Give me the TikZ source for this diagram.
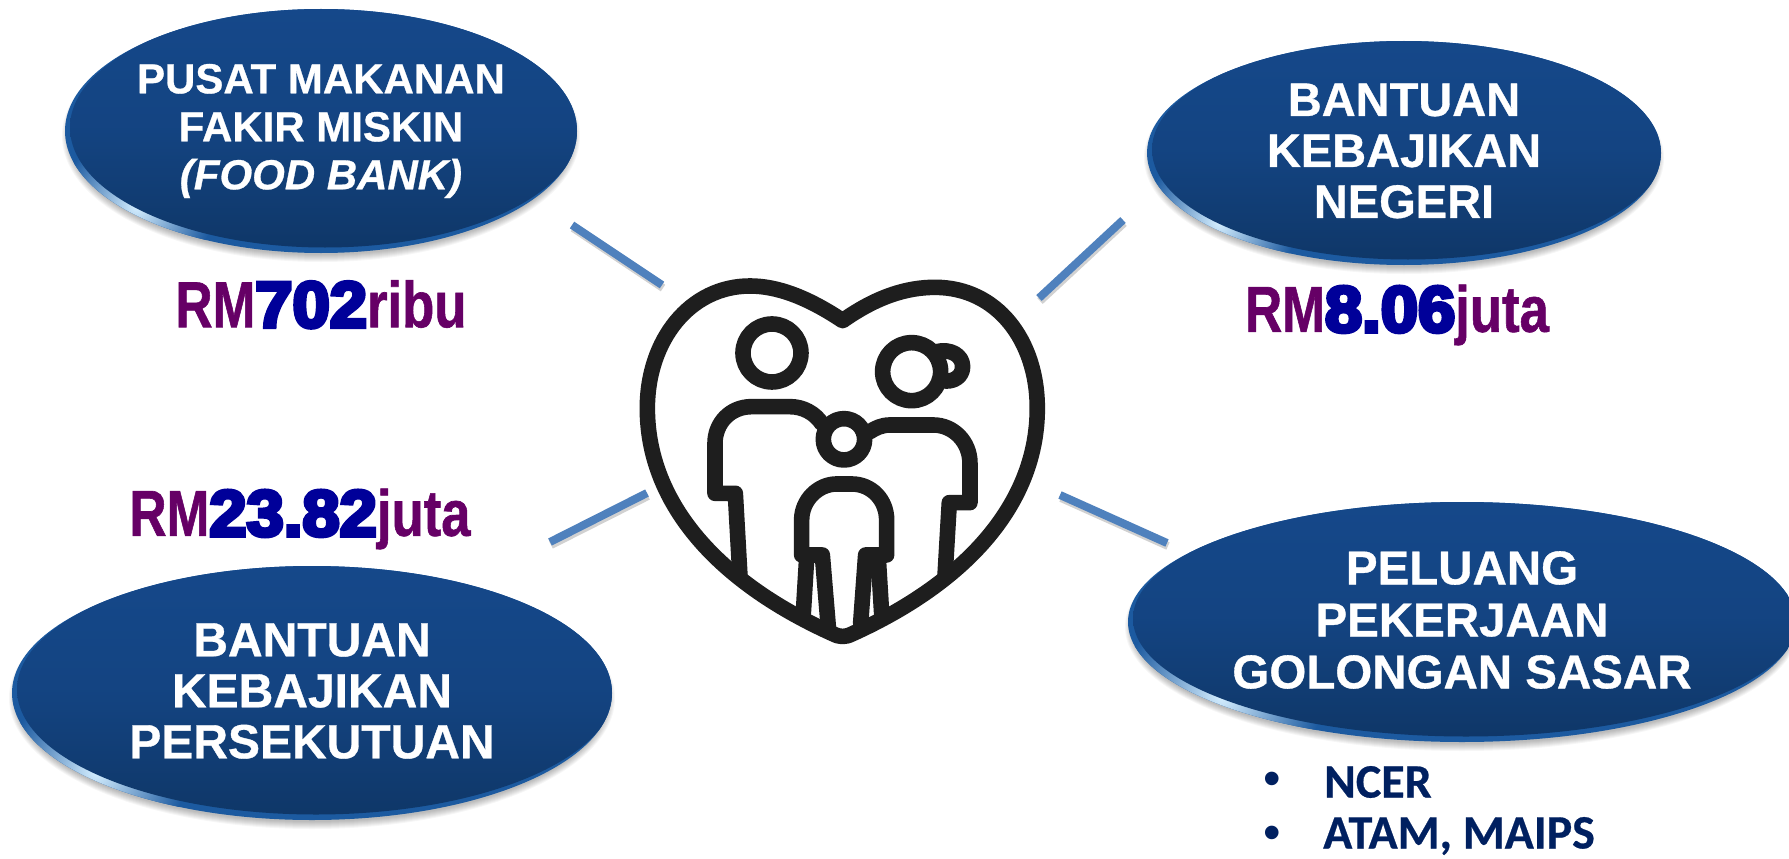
\documentclass[tikz,border=0pt]{standalone}
\usepackage{fontspec}
\setmainfont{Liberation Sans}
\newfontfamily\numfont[FakeBold=6]{Liberation Sans Bold}
\newfontfamily\amtfont[FakeBold=1]{Liberation Sans Bold}
\newfontfamily\ovalfont[FakeBold=.7]{Liberation Sans Bold}
\newfontfamily\ovalitalic[FakeBold=.7]{Liberation Sans Bold Italic}
\newfontfamily\calfont[FakeBold=.5]{Carlito Bold}
\usetikzlibrary{shapes.geometric,calc}
\definecolor{ovaltop}{HTML}{15488A}
\definecolor{ovalbot}{HTML}{0F3768}
\definecolor{rimlight}{HTML}{D4EEFF}
\definecolor{rimmid}{HTML}{1C5AA0}
\definecolor{linkblue}{HTML}{4F81BD}
\definecolor{amtpurple}{HTML}{660066}
\definecolor{amtblue}{HTML}{000099}
\definecolor{listblue}{HTML}{002060}
\definecolor{iconblack}{HTML}{1E1E1E}
\tikzset{
  ovalrim/.style={ellipse,inner sep=0pt,outer sep=0pt,fill=rimmid},
  ovaltext/.style={align=center,text=white,font=\ovalfont\fontsize{47}{51}\selectfont},
  amount/.style={inner sep=0pt,font=\fontsize{65}{70}\selectfont},
  listtext/.style={anchor=west,inner sep=0pt,text=listblue,font=\calfont\fontsize{48}{50}\selectfont},
  listdot/.style={inner sep=0pt,text=listblue,font=\fontsize{50}{50}\selectfont},
  linkline/.style={draw=linkblue,line width=8pt},
  linkshadow/.style={draw=black,opacity=.18,line width=8pt},
  icon/.style={draw=iconblack,line width=15.6pt,line join=round,line cap=round}
}
\newcommand{\ovalshape}[5]{%
  \foreach \k in {0,...,7}{\fill[black,opacity=.035] (#2,#3+5) ellipse [x radius=#4+\k-4,y radius=#5+\k-3];}
  \node[ovalrim,minimum width=2*#4,minimum height=2*#5] (#1) at (#2,#3) {};
  \begin{scope}
    \clip (#2,#3) ellipse [x radius=#4,y radius=#5];
    \shade[inner color=rimlight,outer color=rimmid] (#2-0.72*#4,#3+0.62*#5) circle [radius=0.30*#4];
    \shade[top color=ovaltop,bottom color=ovalbot,middle color=ovaltop!75!ovalbot] (#2+4,#3-3.5) ellipse [x radius=#4-1,y radius=#5-2];
  \end{scope}
}
\newcommand{\amt}[2]{\scalebox{.79}[1]{\amtfont\textcolor{amtpurple}{RM}}\scalebox{1.03}[1]{\textcolor{amtblue}{\numfont #1}}\scalebox{.81}[1]{\amtfont\textcolor{amtpurple}{#2}}}
\begin{document}
\begin{tikzpicture}[x=1pt,y=-1pt]
\useasboundingbox (0,0) rectangle (1789,859);
\fill[white] (0,0) rectangle (1789,859);

% ovals
\ovalshape{foodoval}{321}{131}{256}{122}
\ovalshape{negerioval}{1404}{153}{257}{112}
\ovalshape{fedoval}{312}{693}{300}{127}
\ovalshape{jobsoval}{1462}{622}{334}{120}

\node[ovaltext,font=\ovalfont\fontsize{42}{48}\selectfont] (foodtext) at (321,131) {PUSAT MAKANAN\\FAKIR MISKIN\\{\ovalitalic (FOOD BANK)}};
\node[ovaltext] (negeritext) at (1404,151) {BANTUAN\\KEBAJIKAN\\NEGERI};
\node[ovaltext,font=\ovalfont\fontsize{48}{51}\selectfont] (fedtext) at (312,691) {BANTUAN\\KEBAJIKAN\\PERSEKUTUAN};
\node[ovaltext,font=\ovalfont\fontsize{47.5}{52}\selectfont] (jobstext) at (1462,620) {PELUANG\\PEKERJAAN\\GOLONGAN SASAR};

% amounts
\node[amount] (foodamt) at (321,304) {\amt{702}{ribu}};
\node[amount] (negeriamt) at (1397,315) {\amt{8.06}{juta}};
\node[amount] (fedamt) at (300,519) {\amt{23.82}{juta}};

% list
\node[listdot] (bulleta) at (1272,784) {•};
\node[listdot] (bulletb) at (1272,838) {•};
\node[listtext] (ncer) at (1324,782) {NCER};
\node[listtext] (atam) at (1323,836) {ATAM, MAIPS};

% connector ends
\coordinate (tla) at (572,225); \coordinate (tlb) at (662,285);
\coordinate (tra) at (1123,220); \coordinate (trb) at (1039,298);
\coordinate (bla) at (647,493); \coordinate (blb) at (550,542);
\coordinate (bra) at (1060,495); \coordinate (brb) at (1167,543);
\foreach \p/\q in {tla/tlb,tra/trb,bla/blb,bra/brb}{
  \draw[linkshadow] ($(\p)+(1,3)$) -- ($(\q)+(1,3)$);
  \draw[linkline] (\p) -- (\q);
}

% heart icon (coordinates of a 3x crop)
\begin{scope}[shift={(620,260)},x=.3333pt,y=-.3333pt]
  \draw[icon] (668,182) .. controls (560,110) and (470,78) .. (390,78)
     .. controls (210,78) and (82,240) .. (82,445)
     .. controls (82,720) and (280,960) .. (640,1122)
     .. controls (660,1132) and (676,1132) .. (696,1122)
     .. controls (1054,960) and (1252,720) .. (1252,445)
     .. controls (1252,240) and (1130,82) .. (945,82)
     .. controls (860,82) and (770,110) .. (668,182) -- cycle;
  % father
  \draw[icon] (456,279) circle [radius=87];
  \draw[icon] (360,950) -- (346,700) -- (285,700) -- (285,550)
     .. controls (285,490) and (330,440) .. (395,440) -- (510,440)
     .. controls (550,440) and (585,460) .. (605,490);
  % mother
  \draw[icon] (875,335) circle [radius=87];
  \draw[icon] (950,275) .. controls (990,265) and (1028,285) .. (1028,320)
     .. controls (1028,350) and (1000,368) .. (968,362);
  \draw[icon] (975,950) -- (988,728) -- (1050,728) -- (1050,610)
     .. controls (1050,545) and (1000,495) .. (940,495) -- (810,495)
     .. controls (785,495) and (765,505) .. (750,515);
  % child
  \draw[icon] (672,538) circle [radius=62];
  \draw[icon] (625,1100) -- (607,885) -- (545,885) -- (545,780)
     .. controls (545,720) and (595,672) .. (650,672) -- (695,672)
     .. controls (755,672) and (800,720) .. (800,780) -- (800,885) -- (737,885) -- (722,1090);
  \draw[icon] (560,895) -- (550,1060);
  \draw[icon] (775,895) -- (785,1060);
\end{scope}
\end{tikzpicture}
\end{document}
